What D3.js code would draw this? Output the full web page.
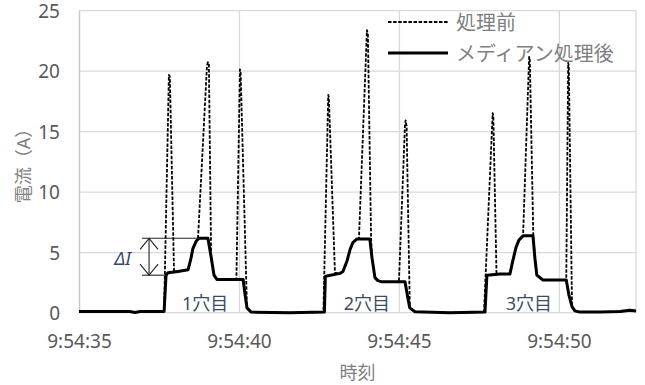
<!DOCTYPE html>
<html>
<head>
<meta charset="utf-8">
<script src="https://cdn.jsdelivr.net/npm/d3@7"></script>
<style>
  body { margin: 0; background: #fff; }
  svg { display: block; }
  text { font-family: "Noto Sans", "Noto Sans CJK JP", sans-serif; }
</style>
</head>
<body>
<svg id="chart" width="645" height="385"></svg>
<script>
// Time is measured in seconds after 9:54:35.
const rawTime = [
  0.00, 1.59, 1.75, 1.91, 2.66, 2.81, 2.84, 2.97, 3.09, 3.41, 3.50, 3.56, 3.66, 3.72,
  4.00, 4.03, 4.06, 4.13, 4.22, 4.31, 4.92, 5.03, 5.05, 5.25, 5.38, 6.59,
  7.64, 7.79, 7.81, 8.00, 8.16, 8.25, 8.38, 8.47, 8.56, 8.69, 8.75, 9.00, 9.03, 9.13,
  9.16, 9.25, 9.34, 9.47, 10.00, 10.19, 10.21, 10.24, 10.34, 10.50, 11.59,
  12.66, 12.93, 12.95, 13.05, 13.16, 13.47, 13.56, 13.66, 13.75, 13.88, 14.07, 14.09,
  14.20, 14.25, 14.31, 14.50, 15.23, 15.29, 15.31, 15.41, 15.50, 15.66, 16.28, 16.91,
  17.22, 17.41
];
const rawCurrent = [
  0.10, 0.10, 0.02, 0.10, 0.10, 19.65, 19.50, 3.40, 3.40, 3.55, 4.50, 5.30, 5.90, 6.15,
  20.40, 20.70, 20.50, 4.60, 3.10, 2.75, 2.75, 20.10, 20.00, 0.40, 0.05, 0.00,
  0.05, 18.00, 17.80, 3.30, 3.25, 3.40, 4.30, 5.20, 5.80, 6.10, 6.10, 23.35, 23.00, 6.10,
  4.50, 2.90, 2.65, 2.55, 2.55, 15.60, 15.90, 15.40, 0.40, 0.08, 0.00,
  0.05, 16.50, 16.30, 3.20, 3.20, 3.20, 4.30, 5.40, 6.00, 6.35, 21.15, 21.00,
  6.35, 4.50, 3.10, 2.70, 2.70, 20.65, 20.40, 0.50, 0.15, 0.05, 0.05, 0.10,
  0.20, 0.15
];

const medTime = [
  0.00, 1.59, 1.75, 1.91, 2.66, 2.72, 2.78, 3.09, 3.41, 3.50, 3.56, 3.66, 3.75, 4.03,
  4.13, 4.22, 4.31, 5.13, 5.19, 5.25, 5.38, 6.59,
  7.67, 7.70, 7.78, 8.16, 8.25, 8.38, 8.47, 8.56, 8.69, 9.09, 9.16, 9.25, 9.34, 9.47,
  10.19, 10.28, 10.34, 10.50, 11.59,
  12.69, 12.75, 13.16, 13.47, 13.56, 13.66, 13.75, 13.88, 14.19, 14.25, 14.31, 14.50,
  15.23, 15.31, 15.41, 15.50, 15.66, 16.28, 16.91, 17.22, 17.41
];
const medCurrent = [
  0.10, 0.10, 0.02, 0.10, 0.10, 3.10, 3.30, 3.40, 3.55, 4.50, 5.30, 5.90, 6.15, 6.15,
  4.60, 3.10, 2.75, 2.75, 1.50, 0.40, 0.05, 0.00,
  0.05, 3.00, 3.05, 3.25, 3.40, 4.30, 5.20, 5.80, 6.10, 6.10, 4.50, 2.90, 2.65, 2.55,
  2.55, 1.20, 0.40, 0.08, 0.00,
  0.05, 3.10, 3.20, 3.20, 4.30, 5.40, 6.00, 6.35, 6.35, 4.50, 3.10, 2.70,
  2.70, 1.50, 0.50, 0.15, 0.05, 0.05, 0.10, 0.20, 0.15
];

const seriesNames = ["処理前", "メディアン処理後"];
const yTicks = [0, 5, 10, 15, 20, 25];
const xTickSeconds = [0, 5, 10, 15];
const xTickLabels = ["9:54:35", "9:54:40", "9:54:45", "9:54:50"];
const holeLabels = ["1穴目", "2穴目", "3穴目"];
const holeLabelTimes = [3.94, 9.00, 14.06];
// ΔI: median level of the first step and of the raised step in hole 1
const deltaLevels = [3.1, 6.15];

const svg = d3.select("#chart");
const plot = { left: 79, right: 636, top: 10.2, bottom: 312.7 };

const x = d3.scaleLinear().domain([0, 17.41]).range([plot.left, plot.right]);
const y = d3.scaleLinear().domain([0, 25]).range([plot.bottom, plot.top]);

const gridColor = "#d9d9d9";

// horizontal gridlines
svg.append("g")
  .attr("transform", `translate(${plot.left},0)`)
  .call(d3.axisLeft(y).tickValues(yTicks.slice(1)).tickSize(-(plot.right - plot.left)).tickFormat(""))
  .call(g => g.select(".domain").remove())
  .call(g => g.selectAll("line").attr("stroke", gridColor).attr("stroke-width", 1.3));

// vertical gridlines
svg.append("g")
  .attr("transform", `translate(0,${plot.bottom})`)
  .call(d3.axisBottom(x).tickValues(xTickSeconds).tickSize(-(plot.bottom - plot.top)).tickFormat(""))
  .call(g => g.select(".domain").remove())
  .call(g => g.selectAll("line").attr("stroke", gridColor).attr("stroke-width", 1.3));

// plot border on the right and bottom axis line
svg.append("line")
  .attr("x1", plot.right).attr("x2", plot.right)
  .attr("y1", plot.top).attr("y2", plot.bottom)
  .attr("stroke", gridColor).attr("stroke-width", 1.3);
svg.append("line")
  .attr("x1", plot.left).attr("x2", plot.right)
  .attr("y1", plot.bottom).attr("y2", plot.bottom)
  .attr("stroke", gridColor).attr("stroke-width", 1.3);

// y axis
svg.append("g")
  .attr("transform", `translate(${plot.left},0)`)
  .call(d3.axisLeft(y).tickValues(yTicks).tickSize(0).tickPadding(19))
  .call(g => g.select(".domain").attr("stroke", "#c8c8c8").attr("stroke-width", 1.3))
  .call(g => g.selectAll("text").attr("fill", "#595959").attr("font-size", 19)
    .attr("dy", "0.36em")
    .attr("font-family", "'Noto Sans', sans-serif"));

// x axis
svg.append("g")
  .attr("transform", `translate(0,${plot.bottom})`)
  .call(d3.axisBottom(x).tickValues(xTickSeconds).tickFormat((d, i) => xTickLabels[i])
    .tickSize(0).tickPadding(22))
  .call(g => g.select(".domain").remove())
  .call(g => g.selectAll("text").attr("fill", "#595959").attr("font-size", 19)
    .attr("font-family", "'Noto Sans', sans-serif"));

// axis titles
svg.append("text")
  .attr("transform", `translate(23,${(plot.top + plot.bottom) / 2}) rotate(-90)`)
  .attr("text-anchor", "middle").attr("dominant-baseline", "central")
  .attr("font-family", "'Noto Sans CJK JP', sans-serif")
  .attr("font-size", 18).attr("fill", "#7f7f7f")
  .text("電流（A）");

svg.append("text")
  .attr("x", (plot.left + plot.right) / 2).attr("y", 372)
  .attr("text-anchor", "middle").attr("dominant-baseline", "central")
  .attr("font-family", "'Noto Sans CJK JP', sans-serif")
  .attr("font-size", 18).attr("fill", "#7f7f7f")
  .text("時刻");

// series
const rawData = rawTime.map((t, i) => [t, rawCurrent[i]]);
const medData = medTime.map((t, i) => [t, medCurrent[i]]);
const line = d3.line().x(d => x(d[0])).y(d => y(d[1]));

const dashStyle = { width: 1.8, dash: "3.5,1.6" };
const solidStyle = { width: 3 };

svg.append("path")
  .datum(rawData)
  .attr("d", line)
  .attr("fill", "none").attr("stroke", "#000")
  .attr("stroke-width", dashStyle.width).attr("stroke-dasharray", dashStyle.dash)
  .attr("stroke-linejoin", "round");

svg.append("path")
  .datum(medData)
  .attr("d", line)
  .attr("fill", "none").attr("stroke", "#000")
  .attr("stroke-width", solidStyle.width)
  .attr("stroke-linejoin", "round");

// hole labels
svg.append("g").selectAll("text")
  .data(holeLabels)
  .join("text")
  .attr("x", (d, i) => x(holeLabelTimes[i]))
  .attr("y", 310)
  .attr("text-anchor", "middle")
  .attr("font-family", "'Noto Sans CJK JP', sans-serif")
  .attr("font-size", 18).attr("fill", "#3d4a62")
  .text(d => d);

// ΔI bracket
const bracketLeft = x(1.97), arrowX = x(2.19);
const topY = y(deltaLevels[1]), botY = y(deltaLevels[0]);
const ann = svg.append("g").attr("stroke", "#222").attr("stroke-width", 1.1).attr("fill", "none");
ann.append("line").attr("x1", bracketLeft).attr("x2", x(3.78)).attr("y1", topY).attr("y2", topY);
ann.append("line").attr("x1", bracketLeft).attr("x2", x(2.78)).attr("y1", botY).attr("y2", botY);
ann.append("line").attr("x1", arrowX).attr("x2", arrowX).attr("y1", topY).attr("y2", botY);
ann.append("path").attr("d", `M${arrowX - 9},${topY + 11}L${arrowX},${topY}L${arrowX + 9},${topY + 11}`);
ann.append("path").attr("d", `M${arrowX - 9},${botY - 11}L${arrowX},${botY}L${arrowX + 9},${botY - 11}`);

svg.append("text")
  .attr("x", bracketLeft - 11).attr("y", (topY + botY) / 2 + 1)
  .attr("text-anchor", "end").attr("dominant-baseline", "central")
  .attr("font-family", "'Liberation Serif', serif").attr("font-style", "italic")
  .attr("font-size", 18).attr("fill", "#34466a")
  .text("ΔI");

// legend
const legend = svg.append("g");
const legendRows = [
  { name: seriesNames[0], y: 22, dashed: true },
  { name: seriesNames[1], y: 53, dashed: false }
];
legendRows.forEach(r => {
  legend.append("line")
    .attr("x1", 388).attr("x2", 448).attr("y1", r.y).attr("y2", r.y)
    .attr("stroke", "#000")
    .attr("stroke-width", r.dashed ? dashStyle.width : solidStyle.width)
    .attr("stroke-dasharray", r.dashed ? dashStyle.dash : null);
  legend.append("text")
    .attr("x", 456).attr("y", r.y)
    .attr("dominant-baseline", "central")
    .attr("font-family", "'Noto Sans CJK JP', sans-serif")
    .attr("font-size", 20).attr("fill", "#7f7f7f")
    .text(r.name);
});
</script>
</body>
</html>
